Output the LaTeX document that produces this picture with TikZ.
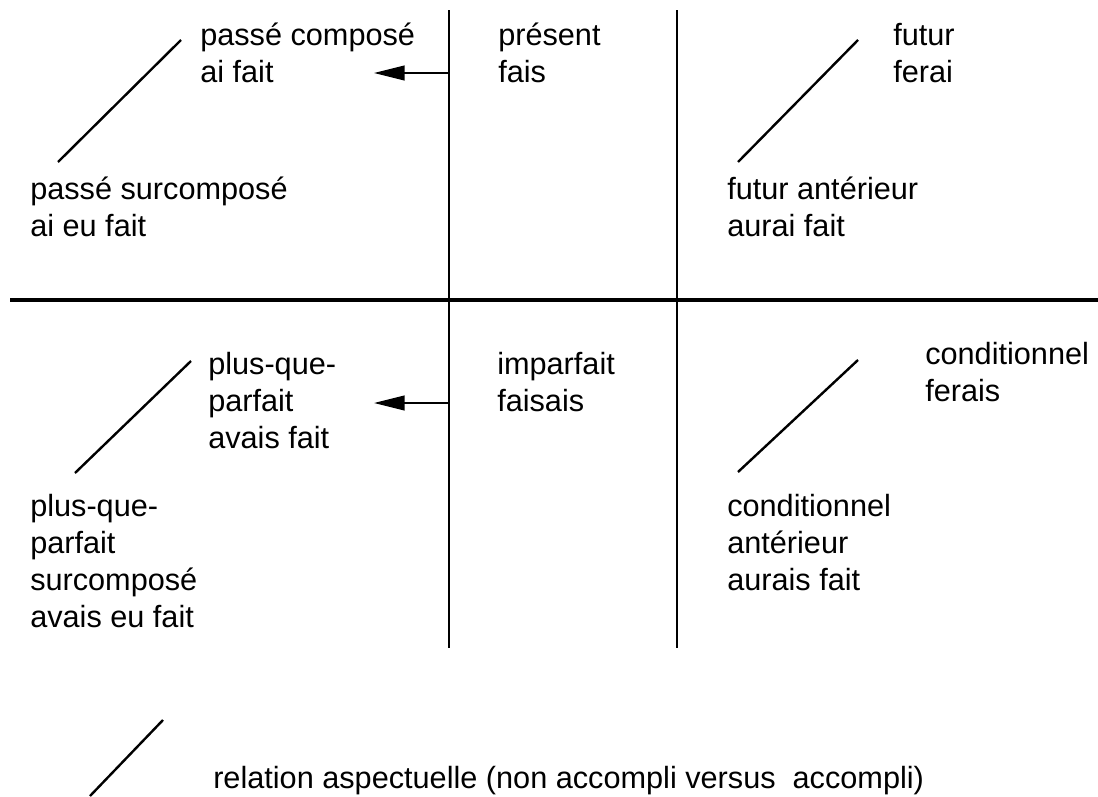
\documentclass[tikz,border=0pt]{standalone}
\usepackage{fontspec}
\setmainfont{Liberation Sans}
\usetikzlibrary{arrows.meta}
\newcommand\lblstrut{\rule{0pt}{21pt}}
\begin{document}
\begin{tikzpicture}[x=0.75pt,y=-0.75pt,
  lbl/.style={anchor=north west,inner sep=0pt,align=left,
    font=\fontsize{23pt}{27.8pt}\selectfont},
  axis/.style={line width=1.7pt},
  haxis/.style={line width=2.3pt},
  diag/.style={line width=1.8pt},
  tense/.style={line width=1.7pt,-{Triangle[length=23pt,width=11pt]}}]
\useasboundingbox (0,0) rectangle (1098,796);
% axes
\coordinate (hL) at (10,300);
\coordinate (hR) at (1098,300);
\coordinate (v1T) at (449,10);
\coordinate (v1B) at (449,648);
\coordinate (v2T) at (677,10);
\coordinate (v2B) at (677,648);
\draw[haxis] (hL) -- (hR);
\draw[axis] (v1T) -- (v1B);
\draw[axis] (v2T) -- (v2B);
% arrows
\coordinate (a1s) at (449,73);
\coordinate (a1e) at (374,73);
\coordinate (a2s) at (449,403);
\coordinate (a2e) at (374,403);
\draw[tense] (a1s) -- (a1e);
\draw[tense] (a2s) -- (a2e);
% diagonals
\coordinate (d1a) at (58,162);  \coordinate (d1b) at (181,40);
\coordinate (d2a) at (738,162); \coordinate (d2b) at (858,40);
\coordinate (d3a) at (75,473);  \coordinate (d3b) at (191,361);
\coordinate (d4a) at (738,472); \coordinate (d4b) at (858,360);
\coordinate (d5a) at (90,796);  \coordinate (d5b) at (163,720);
\draw[diag] (d1a) -- (d1b);
\draw[diag] (d2a) -- (d2b);
\draw[diag] (d3a) -- (d3b);
\draw[diag] (d4a) -- (d4b);
\draw[diag] (d5a) -- (d5b);
% labels (y = first baseline - 28px)
\node[lbl] (pc)  at (200,17)  {\lblstrut passé composé\\ai fait};
\node[lbl] (pr)  at (498,17)  {\lblstrut présent\\fais};
\node[lbl] (fu)  at (893,17)  {\lblstrut futur\\ferai};
\node[lbl] (psc) at (30,171)  {\lblstrut passé surcomposé\\ai eu fait};
\node[lbl] (fa)  at (727,171) {\lblstrut futur antérieur\\aurai fait};
\node[lbl] (pqp) at (208,346) {\lblstrut plus-que-\\parfait\\avais fait};
\node[lbl] (imp) at (497,346) {\lblstrut imparfait\\faisais};
\node[lbl] (co)  at (925,336) {\lblstrut conditionnel\\ferais};
\node[lbl] (pqs) at (30,488)  {\lblstrut plus-que-\\parfait\\surcomposé\\avais eu fait};
\node[lbl] (ca)  at (727,488) {\lblstrut conditionnel\\antérieur\\aurais fait};
\node[lbl] (leg) at (213,760) {\lblstrut relation aspectuelle (non accompli versus\ \ accompli)};
\end{tikzpicture}
\end{document}
